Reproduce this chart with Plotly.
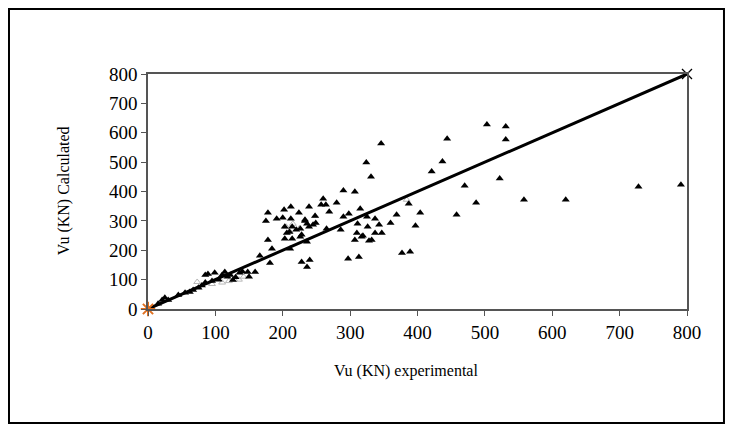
import plotly.graph_objects as go

# Vu experimental vs calculated (KN), black triangles
exp_vu = [15, 21, 25, 30, 45, 55, 62, 67, 75, 80, 85, 85, 89, 99, 110, 114, 122, 126,
          136, 140, 148, 159, 150, 130, 105, 95, 118, 166, 181, 184, 178,
          175, 178, 191, 200, 202, 212, 224, 212, 233, 236, 226, 206, 214, 203, 226,
          211, 236, 228, 228, 240, 236, 203, 214, 220, 210,
          239, 257, 264, 260, 280, 269, 248, 233, 249, 239, 245, 265, 286, 290, 298,
          315, 290, 307, 324, 331, 346, 326, 337, 310, 317, 307, 328, 297, 313, 337,
          347, 332, 343, 360, 369, 404, 397, 387, 377, 389, 325, 311, 319,
          421, 437, 444, 503, 531, 531, 522, 470, 558, 487, 458, 620, 728, 791]
calc_vu = [18, 31, 38, 31, 48, 55, 58, 65, 72, 80, 90, 116, 119, 123, 116, 126, 116, 99,
           123, 128, 126, 126, 110, 108, 100, 95, 110, 181, 157, 205, 235,
           300, 328, 307, 311, 338, 348, 328, 307, 300, 290, 273, 259, 239, 239, 246,
           205, 229, 253, 160, 167, 143, 280, 280, 270, 262,
           348, 355, 355, 375, 362, 331, 317, 304, 293, 280, 287, 273, 270, 314, 324,
           341, 403, 399, 499, 450, 563, 280, 307, 259, 246, 235, 232, 171, 177, 259,
           259, 235, 287, 293, 321, 328, 283, 358, 191, 195, 314, 290, 249,
           468, 502, 580, 628, 621, 577, 444, 420, 372, 362, 321, 372, 416, 423]

# second (light) series near the line
exp_light = [73, 95, 110, 120, 128, 135, 142, 205, 210, 215, 225, 248, 384]
calc_light = [92, 85, 90, 95, 100, 100, 110, 280, 265, 290, 275, 317, 372]

line_x = [0, 800]
line_y = [0, 800]

ticks = [0, 100, 200, 300, 400, 500, 600, 700, 800]

fig = go.Figure()

fig.add_trace(go.Scatter(x=exp_light, y=calc_light, mode='markers',
                         marker=dict(symbol='triangle-up-open', size=6, color='#b8b8b8',
                                     line=dict(width=1, color='#b8b8b8'))))

fig.add_trace(go.Scatter(x=exp_vu, y=calc_vu, mode='markers',
                         marker=dict(symbol='triangle-up', size=7, color='black')))

fig.add_trace(go.Scatter(x=line_x, y=line_y, mode='lines',
                         line=dict(color='black', width=3)))

fig.add_trace(go.Scatter(x=line_x[1:], y=line_y[1:], mode='markers', cliponaxis=False,
                         marker=dict(symbol='x-thin-open', size=10, color='black',
                                     line=dict(width=1.3, color='black'))))

fig.add_trace(go.Scatter(x=line_x[:1], y=line_y[:1], mode='markers', cliponaxis=False,
                         marker=dict(symbol='asterisk-open', size=12, color='#e07020',
                                     line=dict(width=2, color='#e07020'))))

serif = 'Liberation Serif'
axis_font = dict(family=serif, size=19, color='black')

# the page puts the figure 8px in from the window edge
fig.update_layout(
    width=717, height=416,
    margin=dict(l=140, r=38, t=66, b=115),
    paper_bgcolor='white', plot_bgcolor='white',
    showlegend=False,
    font=dict(family=serif, color='black'),
    xaxis=dict(range=[0, 800], tickvals=ticks, showgrid=False, zeroline=False,
               showline=True, linecolor='#555555', linewidth=1.5, mirror=True,
               ticks='outside', ticklen=5, tickcolor='#555555',
               tickfont=axis_font),
    yaxis=dict(range=[0, 800], tickvals=ticks, showgrid=False, zeroline=False,
               showline=True, linecolor='#555555', linewidth=1.5, mirror=True,
               ticks='outside', ticklen=5, tickcolor='#555555',
               tickfont=axis_font),
)

fig.add_annotation(text='Vu (KN) experimental', xref='paper', yref='paper',
                   x=0.479, y=-0.311, showarrow=False,
                   font=dict(family=serif, size=16, color='black'))
fig.add_annotation(text='Vu (KN) Calculated', xref='paper', yref='paper',
                   x=-0.176, y=0.502, showarrow=False, textangle=-90,
                   font=dict(family=serif, size=16, color='black'))

# outer chart border
fig.add_shape(type='rect', xref='paper', yref='paper',
              x0=-0.2579, x1=1.0686, y0=-0.485, y1=1.2766,
              line=dict(color='black', width=2))

fig.write_html("out.html")
